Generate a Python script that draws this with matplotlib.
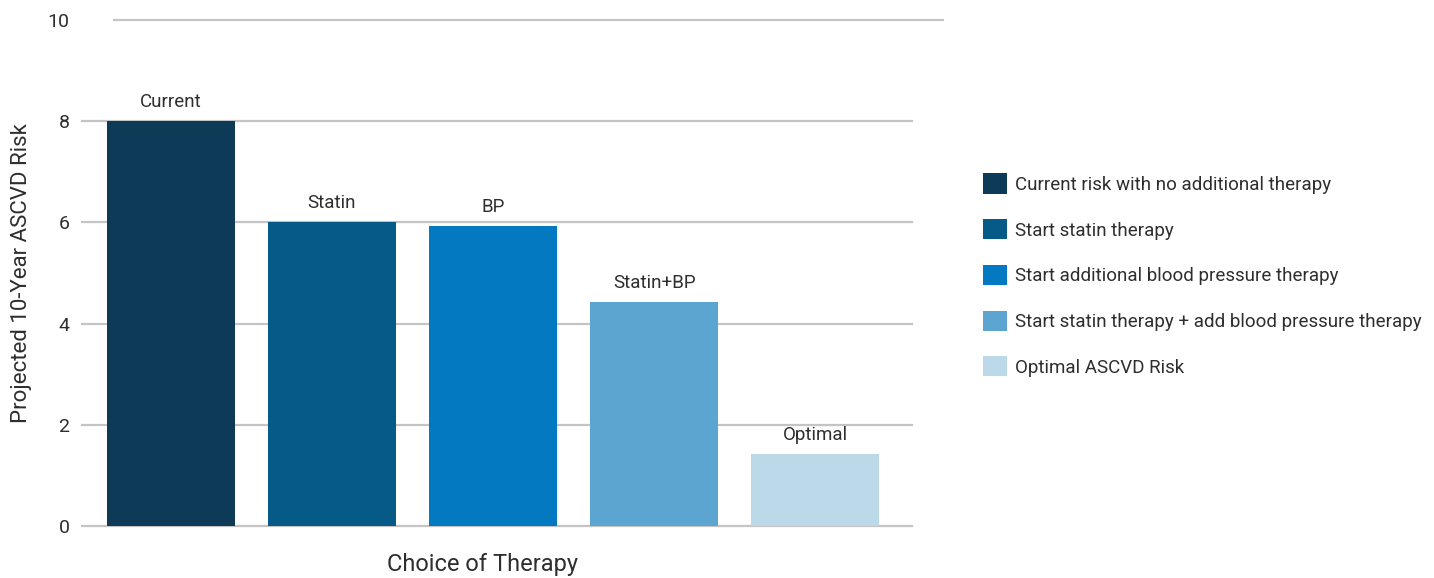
import matplotlib
matplotlib.use('Agg')
import matplotlib.pyplot as plt
from matplotlib.patches import Patch
import numpy as np

plt.rcParams['font.family'] = ['Roboto', 'DejaVu Sans']

# data
categories = ["Current", "Statin", "BP", "Statin+BP", "Optimal"]
risk = [8.0, 6.01, 5.93, 4.43, 1.42]
legend_labels = [
    "Current risk with no additional therapy",
    "Start statin therapy",
    "Start additional blood pressure therapy",
    "Start statin therapy + add blood pressure therapy",
    "Optimal ASCVD Risk",
]
colors = ["#0d3a56", "#065a88", "#0279c0", "#5ca5d0", "#bbd9e9"]
yticks = [0, 2, 4, 6, 8, 10]

txt = '#2e2e2e'
grid = '#c4c4c4'

fig = plt.figure(figsize=(14.34, 5.78), dpi=100)
ax = fig.add_axes([82/1434, 1 - 526/578, 830/1434, 506/578])

x = np.arange(len(categories))
bars = ax.bar(x, risk, width=0.794, color=colors, zorder=3)

for xi, v, lab in zip(x, risk, categories):
    ax.annotate(lab, (xi, v), xytext=(0, 7), textcoords='offset points',
                ha='center', va='bottom', fontsize=13.5, color=txt)

# gridlines (the top one is shifted right like in the original)
for t in yticks[:-1]:
    ax.plot([-0.55, 4.6], [t, t], color=grid, lw=1.6, zorder=1, clip_on=False)
ax.plot([-0.353, 4.79], [10, 10], color=grid, lw=1.6, zorder=1, clip_on=False)

ax.set_xlim(-0.55, 4.6)
ax.set_ylim(0, 10)
ax.set_xticks([])
ax.set_yticks(yticks)
ax.tick_params(axis='y', length=0, pad=9, labelsize=14, labelcolor=txt)
for s in ax.spines.values():
    s.set_visible(False)

ax.set_ylabel("Projected 10-Year ASCVD Risk", fontsize=16, color=txt)
ax.yaxis.set_label_coords(-0.06, 0.5)
ax.set_xlabel("Choice of Therapy", fontsize=17, color=txt)
ax.xaxis.set_label_coords(0.482, -0.053)

handles = [Patch(facecolor=c, edgecolor='none') for c in colors]
fig.legend(handles, legend_labels, loc='upper left', bbox_to_anchor=(975/1434, 1 - 166/578),
           frameon=False, fontsize=13.5, handlelength=1.28, handleheight=1.28,
           handletextpad=0.45, labelspacing=1.35, labelcolor=txt, borderaxespad=0)

fig.savefig('out.png', dpi=100)
